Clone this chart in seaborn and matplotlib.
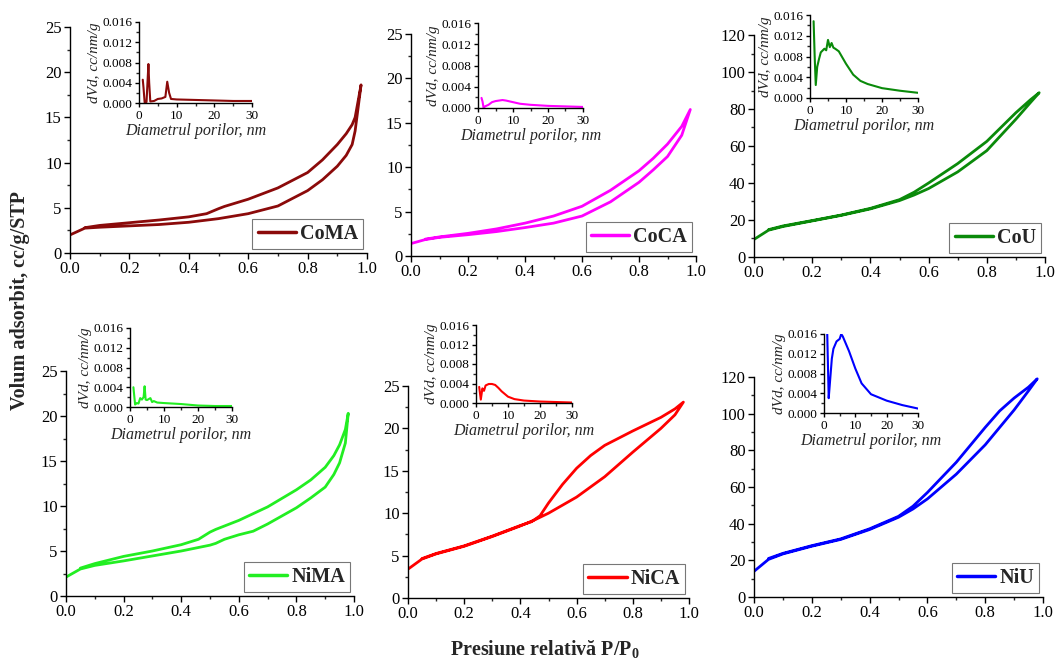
import numpy as np
import pandas as pd
import matplotlib
matplotlib.use("Agg")
import matplotlib.pyplot as plt
from matplotlib.ticker import MultipleLocator, FormatStrFormatter
import seaborn as sns

# ---- isotherm data (adsorption / desorption branches) ----
coma_ads_p = [0, 0.05, 0.1, 0.2, 0.3, 0.4, 0.5, 0.6, 0.7, 0.8, 0.85, 0.9, 0.93, 0.95, 0.96, 0.98]
coma_ads_v = [2.0, 2.75, 2.85, 3.0, 3.15, 3.4, 3.8, 4.35, 5.2, 6.9, 8.1, 9.6, 10.8, 12.0, 13.5, 18.6]
coma_des_p = [0.98, 0.96, 0.95, 0.93, 0.9, 0.85, 0.8, 0.7, 0.6, 0.52, 0.5, 0.46, 0.4, 0.3, 0.2, 0.1, 0.05]
coma_des_v = [18.6, 15.0, 14.2, 13.2, 12.0, 10.3, 8.9, 7.2, 5.95, 5.15, 4.9, 4.35, 4.0, 3.65, 3.35, 3.05, 2.8]

coca_ads_p = [0, 0.05, 0.1, 0.2, 0.3, 0.4, 0.5, 0.6, 0.7, 0.8, 0.85, 0.9, 0.95, 0.98]
coca_ads_v = [1.4, 1.85, 2.1, 2.4, 2.75, 3.2, 3.7, 4.5, 6.1, 8.3, 9.7, 11.2, 13.6, 16.5]
coca_des_p = [0.98, 0.95, 0.9, 0.85, 0.8, 0.7, 0.6, 0.5, 0.4, 0.3, 0.2, 0.1, 0.05]
coca_des_v = [16.5, 14.6, 12.6, 11.0, 9.6, 7.4, 5.6, 4.5, 3.7, 3.05, 2.55, 2.15, 1.9]

cou_ads_p = [0, 0.05, 0.1, 0.2, 0.3, 0.4, 0.5, 0.55, 0.6, 0.7, 0.8, 0.9, 0.95, 0.98]
cou_ads_v = [9.5, 14.5, 16.5, 19.5, 22.5, 26.0, 30.5, 33.5, 37.0, 46.0, 57.5, 74.5, 83.5, 88.8]
cou_des_p = [0.98, 0.95, 0.9, 0.8, 0.7, 0.6, 0.55, 0.5, 0.4, 0.3, 0.2, 0.1, 0.05]
cou_des_v = [88.8, 85.0, 78.0, 62.5, 50.5, 40.0, 35.0, 31.0, 26.3, 22.7, 19.7, 16.8, 14.8]

nima_ads_p = [0, 0.05, 0.1, 0.2, 0.3, 0.4, 0.5, 0.52, 0.55, 0.6, 0.65, 0.7, 0.8, 0.85, 0.9, 0.93, 0.95, 0.97, 0.98]
nima_ads_v = [2.1, 3.0, 3.4, 3.9, 4.45, 5.0, 5.65, 5.85, 6.3, 6.8, 7.2, 8.0, 9.8, 10.9, 12.1, 13.5, 14.8, 17.0, 20.3]
nima_des_p = [0.98, 0.97, 0.95, 0.93, 0.9, 0.85, 0.8, 0.7, 0.6, 0.52, 0.5, 0.46, 0.4, 0.3, 0.2, 0.1, 0.05]
nima_des_v = [20.3, 18.5, 16.8, 15.6, 14.3, 12.9, 11.8, 9.9, 8.4, 7.4, 7.1, 6.3, 5.7, 5.0, 4.4, 3.6, 3.1]

nica_ads_p = [0, 0.05, 0.1, 0.2, 0.3, 0.4, 0.45, 0.5, 0.6, 0.7, 0.8, 0.9, 0.95, 0.98]
nica_ads_v = [3.4, 4.6, 5.2, 6.1, 7.25, 8.5, 9.2, 10.0, 11.9, 14.3, 17.2, 20.0, 21.6, 23.1]
nica_des_p = [0.98, 0.95, 0.9, 0.8, 0.7, 0.65, 0.6, 0.55, 0.5, 0.47, 0.44, 0.4, 0.3, 0.2, 0.1, 0.05]
nica_des_v = [23.1, 22.3, 21.3, 19.7, 18.0, 16.8, 15.3, 13.4, 11.2, 9.7, 9.0, 8.55, 7.3, 6.15, 5.25, 4.65]

niu_ads_p = [0, 0.05, 0.1, 0.2, 0.3, 0.4, 0.5, 0.55, 0.6, 0.7, 0.8, 0.85, 0.9, 0.95, 0.98]
niu_ads_v = [14.0, 20.5, 23.5, 27.7, 31.4, 36.8, 43.5, 48.0, 53.5, 67.0, 83.0, 92.5, 102.0, 112.5, 119.0]
niu_des_p = [0.98, 0.95, 0.9, 0.85, 0.8, 0.75, 0.7, 0.6, 0.55, 0.5, 0.4, 0.3, 0.2, 0.1, 0.05]
niu_des_v = [119.0, 114.5, 108.5, 101.5, 92.5, 83.0, 73.5, 57.0, 49.5, 44.0, 37.2, 31.7, 28.0, 23.8, 21.0]

# ---- pore size distributions (insets) ----
coma_d = [1.0, 1.2, 1.5, 2.0, 2.5, 2.7, 3.0, 4.0, 5.0, 6.0, 7.0, 7.5, 8.0, 8.5, 10, 15, 20, 25, 30]
coma_dv = [0.0046, 0.0030, 0.0001, 0.0002, 0.0077, 0.0040, 0.0003, 0.0004, 0.0008, 0.0009, 0.0012, 0.0042, 0.0020, 0.0008, 0.0007, 0.0006, 0.0005, 0.0004, 0.0004]

coca_d = [1.0, 1.3, 1.6, 2.0, 3.0, 4.0, 5.0, 6.0, 7.0, 8.0, 10, 12, 15, 20, 25, 30]
coca_dv = [0.0019, 0.0012, 0.0000, 0.0003, 0.0006, 0.0011, 0.0013, 0.0014, 0.0015, 0.0014, 0.0011, 0.0008, 0.0006, 0.0004, 0.0003, 0.0002]

cou_d = [1.0, 1.3, 1.6, 2.0, 2.5, 3.0, 4.0, 4.5, 5.0, 5.5, 6.0, 6.5, 7.0, 8.0, 9.0, 10, 12, 14, 16, 20, 25, 30]
cou_dv = [0.0148, 0.0080, 0.0025, 0.0060, 0.0075, 0.0088, 0.0095, 0.0092, 0.0112, 0.0098, 0.0106, 0.0097, 0.0095, 0.0090, 0.0078, 0.0066, 0.0045, 0.0033, 0.0027, 0.0019, 0.0014, 0.0010]

nima_d = [1.0, 1.5, 2.0, 2.5, 3.0, 3.5, 4.0, 4.3, 4.6, 5.0, 6.0, 6.5, 7.0, 8.0, 10, 15, 20, 25, 30]
nima_dv = [0.0040, 0.0005, 0.0008, 0.0007, 0.0018, 0.0015, 0.0020, 0.0042, 0.0015, 0.0014, 0.0018, 0.0010, 0.0012, 0.0009, 0.0008, 0.0006, 0.0003, 0.0002, 0.0002]

nica_d = [1.0, 1.5, 2.0, 2.5, 3.0, 4.0, 5.0, 6.0, 7.0, 8.0, 10, 12, 15, 20, 25, 30]
nica_dv = [0.0033, 0.0007, 0.0030, 0.0025, 0.0036, 0.0039, 0.0039, 0.0037, 0.0031, 0.0024, 0.0013, 0.0008, 0.0005, 0.0003, 0.0002, 0.0001]

niu_d = [1.0, 1.5, 2.0, 2.5, 3.0, 4.0, 5.0, 5.5, 6.0, 7.0, 8.0, 10, 12, 15, 20, 25, 30]
niu_dv = [0.0170, 0.0030, 0.0070, 0.0110, 0.0130, 0.0145, 0.0150, 0.0160, 0.0155, 0.0140, 0.0125, 0.0090, 0.0060, 0.0038, 0.0025, 0.0016, 0.0009]

samples = [
    ("CoMA", "#8b0a0a", coma_ads_p, coma_ads_v, coma_des_p, coma_des_v, coma_d, coma_dv, 25),
    ("CoCA", "#ff00ff", coca_ads_p, coca_ads_v, coca_des_p, coca_des_v, coca_d, coca_dv, 25),
    ("CoU", "#0a8a0a", cou_ads_p, cou_ads_v, cou_des_p, cou_des_v, cou_d, cou_dv, 120),
    ("NiMA", "#22ee22", nima_ads_p, nima_ads_v, nima_des_p, nima_des_v, nima_d, nima_dv, 25),
    ("NiCA", "#ff0000", nica_ads_p, nica_ads_v, nica_des_p, nica_des_v, nica_d, nica_dv, 25),
    ("NiU", "#0000ff", niu_ads_p, niu_ads_v, niu_des_p, niu_des_v, niu_d, niu_dv, 120),
]

# pixel boxes (x_left, x_right, y_top, y_bottom)
main_boxes = [(70, 367, 27, 253), (411, 696, 34, 256), (754, 1045, 35, 257),
              (66, 354, 371, 596), (408, 689, 386, 598), (754, 1043, 377, 597)]
inset_boxes = [(139, 252, 22, 103), (478, 583, 23, 108), (810, 918, 15, 98),
               (130, 232, 328, 407), (476, 572, 325, 403), (824, 918, 334, 413)]

sns.set_style("ticks")
plt.rcParams["font.family"] = ["Liberation Serif", "DejaVu Serif"]
plt.rcParams["mathtext.fontset"] = "custom"
plt.rcParams["mathtext.rm"] = "Liberation Serif"
plt.rcParams["mathtext.bf"] = "Liberation Serif:bold"

W, H = 1056, 664
fig = plt.figure(figsize=(W / 100, H / 100), dpi=100)
fig.patch.set_facecolor("white")


def px_axes(box):
    x0, x1, yt, yb = box
    return fig.add_axes([x0 / W, 1 - yb / H, (x1 - x0) / W, (yb - yt) / H])


def style(ax, size, major_len, minor_len):
    sns.despine(ax=ax)
    for s in ["left", "bottom"]:
        ax.spines[s].set_color("black")
        ax.spines[s].set_linewidth(1.0)
    ax.tick_params(which="major", direction="out", length=major_len, width=1,
                   labelsize=size, colors="black", pad=2)
    ax.tick_params(which="minor", direction="out", length=minor_len, width=1)
    ax.set_facecolor("none")


for i, (name, col, ap, av, dp, dv_, d, dv, ymax) in enumerate(samples):
    ax = px_axes(main_boxes[i])
    loop = pd.DataFrame({"p": list(ap) + list(dp), "v": list(av) + list(dv_)})
    sns.lineplot(data=loop, x="p", y="v", sort=False, estimator=None,
                 color=col, lw=2.0, ax=ax, label=name)
    ax.set_xlim(0, 1.0)
    ax.set_ylim(0, ymax)
    ax.xaxis.set_major_locator(MultipleLocator(0.2))
    ax.xaxis.set_minor_locator(MultipleLocator(0.1))
    ax.xaxis.set_major_formatter(FormatStrFormatter("%.1f"))
    if ymax == 25:
        ax.yaxis.set_major_locator(MultipleLocator(5))
        ax.yaxis.set_minor_locator(MultipleLocator(2.5))
    else:
        ax.yaxis.set_major_locator(MultipleLocator(20))
        ax.yaxis.set_minor_locator(MultipleLocator(10))
    ax.set_xlabel("")
    ax.set_ylabel("")
    style(ax, 12, 4, 2.5)
    leg = ax.legend(loc="lower right", frameon=True, fancybox=False,
                    prop={"family": "Liberation Serif", "weight": "bold", "size": 14.5},
                    handlelength=1.9, handletextpad=0.2, borderpad=0.25,
                    borderaxespad=0.2)
    leg.get_frame().set_edgecolor("#555555")
    leg.get_frame().set_linewidth(0.8)
    for ln in leg.get_lines():
        ln.set_linewidth(2.5)

    # inset
    ins = px_axes(inset_boxes[i])
    psd = pd.DataFrame({"d": d, "dv": dv})
    sns.lineplot(data=psd, x="d", y="dv", sort=False, estimator=None,
                 color=col, lw=1.5, ax=ins)
    ins.set_xlim(0, 30)
    ins.set_ylim(0, 0.016)
    ins.xaxis.set_major_locator(MultipleLocator(10))
    ins.xaxis.set_minor_locator(MultipleLocator(5))
    ins.yaxis.set_major_locator(MultipleLocator(0.004))
    ins.yaxis.set_minor_locator(MultipleLocator(0.002))
    ins.yaxis.set_major_formatter(FormatStrFormatter("%.3f"))
    style(ins, 9.5, 3, 2)
    ins.set_xlabel("Diametrul porilor, nm", fontsize=11.5, style="italic", labelpad=1)
    ins.set_ylabel("dVd, cc/nm/g", fontsize=11, style="italic", labelpad=1)

fig.text(20 / W, 1 - 301 / H, "Volum adsorbit, cc/g/STP", rotation=90,
         ha="center", va="center", fontsize=14.5, fontweight="bold")
fig.text(545 / W, 1 - 650 / H, r"Presiune relativă P/P$_{\mathbf{0}}$",
         ha="center", va="center", fontsize=14.5, fontweight="bold")

fig.savefig("out.png", dpi=100, facecolor="white")
